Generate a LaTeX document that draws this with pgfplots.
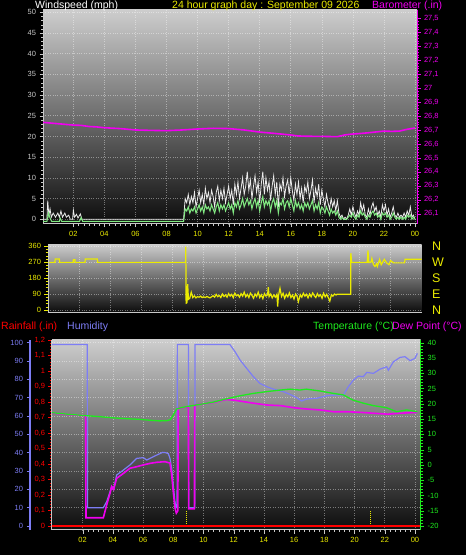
\documentclass[border=0pt]{standalone}
\usepackage{pgfplots}
\pgfplotsset{compat=1.18}
\usepackage{fontspec}
\setmainfont{Liberation Sans}
\definecolor{bgtop}{RGB}{205,205,205}
\definecolor{bgbot}{RGB}{12,12,12}
\definecolor{ylw}{RGB}{235,235,0}
\definecolor{mag}{RGB}{240,0,240}
\definecolor{hum}{RGB}{125,125,245}
\definecolor{tmp}{RGB}{30,235,30}
\definecolor{gust}{RGB}{235,235,235}
\definecolor{avg}{RGB}{130,235,130}
\definecolor{axgrey}{RGB}{200,200,200}
\definecolor{rainred}{RGB}{255,0,0}
\pgfplotsset{
  base/.style={scale only axis, anchor=south west,
    /pgf/number format/assume math mode=true,
    tick label style={font=\fontsize{7.5}{8}\selectfont},
    tick align=outside, major tick length=3.5pt, minor tick length=2pt},
  bg/.style={axis background/.style={top color=bgtop, bottom color=bgbot}},
  gridst/.style={grid=major, major grid style={white, opacity=0.4, dotted, line width=0.6pt}},
}
\begin{document}
\begin{tikzpicture}[x=1pt,y=1pt]
\useasboundingbox (0,0) rectangle (466,555);
\fill[black] (0,0) rectangle (466,555);

% ---------- Panel 1 : wind speed ----------
\begin{axis}[base, bg, gridst, at={(43pt,331pt)}, width=374pt, height=214pt,
  xmin=0.045, xmax=24.13, ymin=-1.14, ymax=50.56,
  axis x line*=bottom, axis y line*=left,
  axis line style={axgrey, line width=1pt, -},
  xtick={2,4,...,24}, xticklabels={02,04,06,08,10,12,14,16,18,20,22,00},
  minor x tick num=5, ytick={0,5,...,50}, minor y tick num=4,
  xticklabel style={ylw}, yticklabel style={axgrey}, tick style={axgrey}]
\addplot[gust, line width=0.8pt] coordinates {
(0.05,0) (0.3,0) (0.35,4.5) (0.42,1) (0.5,2.5) (0.58,0.5) (0.7,1.5) (0.85,0.5) (1.0,1.5) (1.1,0.5) (1.2,2) (1.3,0.5) (1.45,1.5) (1.55,0.5) (1.7,1) (1.8,0) (1.95,0) (2.0,2.2) (2.08,0.5) (2.2,1.2) (2.3,0.3) (2.45,1.3) (2.55,0) (9.1,0)
(9.2,5) (9.3,4) (9.4,6) (9.5,3.5) (9.6,5.5) (9.7,4) (9.8,6.5) (9.9,3) (10.0,5) (10.1,7) (10.2,4) (10.3,6) (10.4,3.5) (10.5,7.5) (10.6,5) (10.7,6.5) (10.8,4) (10.9,7) (11.0,5.5) (11.1,3) (11.2,6.5) (11.3,8) (11.4,4.5) (11.5,7) (11.6,5) (11.7,7.5) (11.8,4) (11.9,6) (12.0,8) (12.1,5) (12.2,7) (12.3,3.5) (12.4,8.5) (12.5,6) (12.6,9) (12.7,5) (12.8,7.5) (12.9,10) (13.0,6) (13.1,8) (13.2,11.5) (13.3,7) (13.4,9.5) (13.5,5) (13.6,8) (13.7,10.5) (13.8,6.5) (13.9,9) (14.0,4) (14.1,8.5) (14.2,11.5) (14.3,6) (14.4,10) (14.5,7) (14.6,9) (14.7,4.5) (14.8,8) (14.9,10.5) (15.0,6) (15.1,9) (15.2,3) (15.3,8.5) (15.4,7) (15.5,10) (15.6,5.5) (15.7,8) (15.8,9.5) (15.9,6) (16.0,10) (16.1,7) (16.2,4.5) (16.3,8.5) (16.4,6) (16.5,9) (16.6,5) (16.7,7.5) (16.8,4) (16.9,8) (17.0,6.5) (17.1,9) (17.2,5) (17.3,7) (17.4,9.5) (17.5,4) (17.6,7.5) (17.7,5.5) (17.8,8.5) (17.9,3.5) (18.0,7) (18.1,5) (18.2,3) (18.3,6) (18.4,4) (18.5,2.5) (18.6,5) (18.7,3) (18.8,4.5) (18.9,2) (19.0,4.5) (19.1,1.5) (19.2,0.5) (19.3,1) (19.4,0) (19.5,0.5) (19.6,0) (19.7,1) (19.8,2.5) (19.9,1) (20.0,3) (20.1,1.5) (20.2,0.5) (20.3,2) (20.4,1) (20.5,4) (20.6,2) (20.7,3.5) (20.8,1) (20.9,0.5) (21.0,2.5) (21.1,1) (21.2,3) (21.3,4) (21.4,2) (21.5,3) (21.6,1) (21.7,2) (21.8,0.5) (21.9,3.5) (22.0,2) (22.1,3.5) (22.2,1) (22.3,2.5) (22.4,0.5) (22.5,1.5) (22.6,3) (22.7,1) (22.8,0.5) (22.9,1.5) (23.0,0.5) (23.1,1) (23.2,0.5) (23.3,1.5) (23.4,0.5) (23.5,2) (23.6,1) (23.7,3) (23.8,0.5) (23.9,1) (24.0,0)};
\addplot[avg, line width=1pt] coordinates {
(0.05,-0.5) (0.3,-0.5) (0.35,0.5) (0.4,1.5) (0.5,0.3) (0.6,-0.5) (1.1,-0.5) (1.15,0.3) (1.25,-0.5) (2.4,-0.5) (2.5,0.4) (2.6,-0.5) (9.1,-0.5)
(9.2,2.5) (9.3,2) (9.4,3) (9.5,1.5) (9.6,2.5) (9.7,2) (9.8,3) (9.9,1.5) (10.0,2.5) (10.1,3.5) (10.2,2) (10.3,3) (10.4,1.5) (10.5,3.5) (10.6,2.5) (10.7,3) (10.8,2) (10.9,3.5) (11.0,2.5) (11.1,1.5) (11.2,3) (11.3,4) (11.4,2) (11.5,3.5) (11.6,2.5) (11.7,3.5) (11.8,2) (11.9,3) (12.0,4) (12.1,2.5) (12.2,3.5) (12.3,1.5) (12.4,4) (12.5,3) (12.6,4.5) (12.7,2.5) (12.8,3.5) (12.9,5) (13.0,3) (13.1,4) (13.2,5) (13.3,3.5) (13.4,4.5) (13.5,2.5) (13.6,4) (13.7,5) (13.8,3) (13.9,4.5) (14.0,2) (14.1,4) (14.2,5.5) (14.3,3) (14.4,4.5) (14.5,3.5) (14.6,4.5) (14.7,2) (14.8,4) (14.9,5) (15.0,3) (15.1,4.5) (15.2,1.5) (15.3,4) (15.4,3.5) (15.5,5) (15.6,2.5) (15.7,4) (15.8,4.5) (15.9,3) (16.0,5) (16.1,3.5) (16.2,2) (16.3,4.5) (16.4,3) (16.5,4) (16.6,2.5) (16.7,3.5) (16.8,2) (16.9,4) (17.0,3) (17.1,4) (17.2,2.5) (17.3,3.5) (17.4,4.5) (17.5,2) (17.6,3.5) (17.7,2.5) (17.8,4) (17.9,1.5) (18.0,3) (18.1,2.5) (18.2,1.5) (18.3,3) (18.4,2) (18.5,1) (18.6,2.5) (18.7,1.5) (18.8,2) (18.9,1) (19.0,2) (19.1,0.5) (19.2,0) (19.3,0.5) (19.4,0) (19.5,0) (19.6,0) (19.7,0.5) (19.8,1) (19.9,0.5) (20.0,1.5) (20.1,0.5) (20.2,0) (20.3,1) (20.4,0.5) (20.5,2) (20.6,1) (20.7,1.5) (20.8,0.5) (20.9,0) (21.0,1) (21.1,0.5) (21.2,1.5) (21.3,2) (21.4,1) (21.5,1.5) (21.6,0.5) (21.7,1) (21.8,0) (21.9,1.5) (22.0,1) (22.1,1.5) (22.2,0.5) (22.3,1) (22.4,0) (22.5,0.5) (22.6,1.5) (22.7,0.5) (22.8,0) (22.9,0.5) (23.0,0) (23.1,0.5) (23.2,0) (23.3,0.5) (23.4,0) (23.5,1) (23.6,0.5) (23.7,1) (23.8,0) (23.9,0.5) (24.0,0)};
\end{axis}

% ---------- Panel 1 : barometer ----------
\begin{axis}[base, at={(43pt,331pt)}, width=374pt, height=214pt,
  xmin=0.045, xmax=24.13, ymin=26.026, ymax=27.56,
  axis x line=none, axis y line*=right, axis line style={mag, line width=1pt, -},
  ytick={26.1,26.2,26.3,26.4,26.5,26.6,26.7,26.8,26.9,27.0,27.1,27.2,27.3,27.4,27.5},
  yticklabels={{26,1},{26,2},{26,3},{26,4},{26,5},{26,6},{26,7},{26,8},{26,9},27,{27,1},{27,2},{27,3},{27,4},{27,5}},
  minor y tick num=4, tick style={mag}, yticklabel style={mag}]
\addplot[mag, line width=1.6pt] coordinates {
(0,26.755) (0.5,26.75) (1,26.745) (1.5,26.74) (2,26.735) (2.5,26.733) (3,26.725) (3.5,26.722) (4,26.716) (5,26.71) (6,26.70) (7,26.697) (8,26.695) (9,26.70) (10,26.707) (11,26.712) (12,26.71) (13,26.70) (14,26.685) (15,26.675) (16,26.664) (16.5,26.657) (17,26.655) (18,26.654) (19,26.652) (19.5,26.665) (20,26.671) (20.5,26.675) (21,26.68) (22,26.692) (22.5,26.69) (23,26.692) (23.5,26.705) (24,26.714)};
\end{axis}

% ---------- Panel 2 : wind direction ----------
\begin{axis}[base, bg, gridst, at={(48pt,242.7pt)}, width=373.7pt, height=68pt,
  xmin=0, xmax=24, ymin=-13, ymax=369.6,
  axis x line*=bottom, axis y line*=left, axis line style={axgrey, line width=1pt, -},
  xtick={2,4,...,22}, xticklabels={}, xtick style={draw=none},
  ytick={0,90,180,270,360}, minor y tick num=4,
  ytick style={ylw}, yticklabel style={ylw}]
\addplot[ylw, line width=1.2pt] coordinates {
(0.05,268) (0.45,268) (0.46,287) (0.73,287) (0.74,268) (1.62,268) (1.63,283) (1.73,283) (1.74,268) (2.38,268) (2.39,287) (3.17,287) (3.18,268) (8.84,268) (8.85,356) (8.87,38) (8.92,40) (8.97,145) (9.02,60)
(9.1,65) (9.2,100) (9.3,70) (9.4,80) (9.5,68) (9.6,75) (9.7,72) (9.8,78) (9.9,70) (10.0,74) (10.1,70) (10.2,76) (10.3,72) (10.4,68) (10.5,74) (10.6,80) (10.7,72) (10.8,88) (10.9,75) (11.0,82) (11.1,70) (11.2,90) (11.3,76) (11.4,85) (11.5,72) (11.6,92) (11.7,78) (11.8,88) (11.9,70) (12.0,95) (12.1,80) (12.2,86) (12.3,72) (12.4,92) (12.5,78) (12.6,100) (12.7,74) (12.8,88) (12.9,70) (13.0,95) (13.1,82) (13.2,66) (13.3,90) (13.4,76) (13.5,100) (13.6,70) (13.7,86) (13.8,64) (13.9,92) (14.0,78) (14.1,86) (14.15,128) (14.2,75) (14.3,90) (14.4,68) (14.5,85) (14.6,72) (14.7,88) (14.75,19) (14.8,80) (14.9,122) (15.0,76) (15.1,94) (15.2,66) (15.3,88) (15.4,74) (15.5,96) (15.6,70) (15.7,84) (15.8,62) (15.9,90) (16.0,76) (16.08,47) (16.2,86) (16.3,72) (16.4,94) (16.5,78) (16.6,88) (16.7,68) (16.8,90) (16.9,74) (17.0,96) (17.1,80) (17.2,70) (17.3,92) (17.4,76) (17.5,86) (17.6,66) (17.7,94) (17.8,74) (17.9,88) (18.0,70) (18.1,50) (18.2,86) (18.3,78) (18.4,90) (18.5,84) (18.55,88) (19.44,88) (19.45,320) (19.5,268) (20.5,268) (20.55,335) (20.6,268) (20.75,270) (20.8,290) (20.9,255) (21.0,245) (21.1,260) (21.15,245) (21.3,285) (21.4,255) (21.5,270) (21.6,285) (21.75,265) (21.9,255) (22.0,278) (22.2,265) (22.9,265) (22.93,285) (24.0,285)};
\end{axis}
\begin{axis}[base, at={(48pt,242.7pt)}, width=373.7pt, height=68pt,
  xmin=0, xmax=24, ymin=-13, ymax=369.6,
  axis x line=none, axis y line*=right, y axis line style={draw=none},
  ytick={0,90,180,270,360}, yticklabels={N,E,S,W,N}, major tick length=0pt,
  yticklabel style={ylw, font=\fontsize{12.5}{13}\selectfont, xshift=7pt}]
\end{axis}

% ---------- Panel 3 : humidity (with background) ----------
\begin{axis}[base, bg, gridst, at={(52pt,25pt)}, width=368.7pt, height=190pt,
  xmin=-0.03, xmax=24.38, ymin=-2.18, ymax=101.5,
  axis x line*=bottom, axis y line*=left, y axis line style={draw=none},
  x axis line style={axgrey, line width=1pt, -},
  ytick={0,10,...,100}, yticklabels={}, ytick style={draw=none},
  xtick={2,4,...,24}, xticklabels={02,04,06,08,10,12,14,16,18,20,22,00},
  minor x tick num=5, xticklabel style={ylw}, xtick style={axgrey}]
\addplot[hum, line width=1.2pt] coordinates {
(-0.05,99) (2.3,99) (2.33,10) (3.37,10) (3.59,13.3) (3.81,18.7) (3.92,21.5) (4.05,20) (4.25,27.8) (4.69,30.5) (5.13,33.3) (5.57,36.9) (6.02,37.3) (6.24,36) (6.68,37.8) (6.9,38.7) (7.3,40.2) (7.5,40) (7.67,39.5) (7.78,36.9) (7.89,31.5) (8.0,22.4) (8.11,13.3) (8.18,10) (8.25,10) (8.27,99) (9.0,99) (9.02,10) (9.42,10) (9.44,99) (11.75,99) (12.09,95.1) (12.42,90.6) (12.86,86) (13.3,81.5) (13.74,77.8) (14.19,76) (14.63,74.7) (15.29,73.3) (15.73,71.8) (16.17,70) (16.5,68.2) (16.83,69.3) (17.5,69.7) (18.16,71.1) (18.82,71.5) (19.26,71.5) (19.59,76) (19.92,79.6) (20.25,81.8) (20.58,81.5) (20.81,83.8) (21.25,83.3) (21.69,85.6) (22.13,86.9) (22.24,85) (22.57,89.6) (23.01,92) (23.34,92.4) (23.68,90.2) (24.0,91.5) (24.16,94.2)};
\end{axis}

% ---------- Panel 3 : rainfall ----------
\begin{axis}[base, at={(52pt,25pt)}, width=368.7pt, height=190pt,
  xmin=-0.03, xmax=24.38, ymin=-0.0258, ymax=1.2,
  axis x line=none, axis y line*=left, axis line style={axgrey, line width=1pt, -},
  ytick={0,0.1,0.2,0.3,0.4,0.5,0.6,0.7,0.8,0.9,1.0,1.1,1.2},
  yticklabels={0,{0,1},{0,2},{0,3},{0,4},{0,5},{0,6},{0,7},{0,8},{0,9},1,{1,1},{1,2}},
  minor y tick num=4, ytick style={rainred}, yticklabel style={rainred}]
\addplot[ycomb, ylw, densely dotted, line width=1pt] coordinates {(8.89,0.1) (21.07,0.1)};
\addplot[rainred, line width=2.5pt] coordinates {(-0.1,0) (24.5,0)};
\end{axis}

% ---------- Panel 3 : temperature / dew point ----------
\begin{axis}[base, at={(52pt,25pt)}, width=368.7pt, height=190pt,
  xmin=-0.03, xmax=24.38, ymin=-21.31, ymax=40.88,
  axis x line=none, axis y line*=right, axis line style={tmp, line width=1pt, -},
  ytick={-20,-15,...,40}, minor y tick num=4,
  ytick style={tmp}, yticklabel style={tmp}]
\addplot[mag, line width=1.6pt] coordinates {
(-0.05,17.0) (1,16.5) (2.2,16.1) (2.22,-17.3) (3.37,-17.3) (3.59,-13.1) (3.81,-9.3) (3.92,-7.1) (4.05,-8) (4.25,-4.4) (4.69,-2.8) (5.13,-1.1) (5.57,-0.6) (6.02,0) (6.46,0.5) (6.9,0.85) (7.45,1.05) (7.78,0.6) (7.89,-3) (8.0,-8.8) (8.11,-14) (8.2,-15.8) (8.3,-15) (8.33,18.5) (9.0,19.0) (9.02,-14.4) (9.4,-14.4) (9.42,19.6) (10.6,20.4) (11.5,21.4) (12.0,21.2) (12.4,20.9) (13.3,20.2) (14.2,19.6) (15.1,19.4) (16.0,18.7) (16.8,18.3) (17.7,18) (18.6,17.4) (19.5,17.4) (20.4,17.2) (21.3,16.9) (22.2,16.6) (23.0,16.9) (24.16,17.2)};
\addplot[tmp, line width=1.3pt] coordinates {
(-0.05,17.1) (1,16.6) (2,16.2) (3.1,15.8) (4,15.4) (5,15.1) (5.8,14.9) (6.5,14.6) (7.1,14.4) (7.6,14.5) (7.8,14.8) (8.0,16.3) (8.22,18.3) (8.5,18.7) (8.88,19.1) (9.76,19.8) (10.6,20.5) (11.5,21.6) (12.4,22.6) (13.3,23.4) (14.2,24.0) (15.1,24.5) (15.73,24.8) (16.39,24.5) (16.8,24.8) (17.7,24.2) (18.6,23.4) (19.26,22.9) (19.9,21.2) (20.58,20.2) (21.25,19.4) (22.13,18.7) (22.79,17.4) (23.45,18.0) (24.16,17.4)};
\end{axis}

% ---------- Panel 3 : humidity scale ----------
\begin{axis}[base, at={(29.5pt,25pt)}, width=1pt, height=190pt,
  xmin=0, xmax=1, ymin=-2.18, ymax=101.5,
  axis x line=none, axis y line*=left, axis line style={hum, line width=2pt, -},
  ytick={0,10,...,100}, major tick length=3pt,
  ytick style={hum, line width=1pt}, yticklabel style={hum}]
\end{axis}

% ---------- titles ----------
\node[anchor=base west, white, font=\fontsize{10.5}{12}\selectfont, inner sep=0] at (35,546.5) {Windspeed (mph)};
\node[anchor=base west, ylw, font=\fontsize{10.5}{12}\selectfont, inner sep=0] at (172,546.5) {24 hour graph day : September 09 2026};
\node[anchor=base west, mag, font=\fontsize{10.5}{12}\selectfont, inner sep=0] at (372,546.5) {Barometer (.in)};
\node[anchor=base west, rainred, font=\fontsize{10.5}{12}\selectfont, inner sep=0] at (1,225) {Rainfall (.in)};
\node[anchor=base west, hum, font=\fontsize{10.5}{12}\selectfont, inner sep=0] at (67,225) {Humidity};
\node[anchor=base west, tmp, font=\fontsize{10.5}{12}\selectfont, inner sep=0] at (313,225) {Temperature (°C)};
\node[anchor=base west, mag, font=\fontsize{10.5}{12}\selectfont, inner sep=0] at (392,225) {Dew Point (°C)};
\end{tikzpicture}
\end{document}
